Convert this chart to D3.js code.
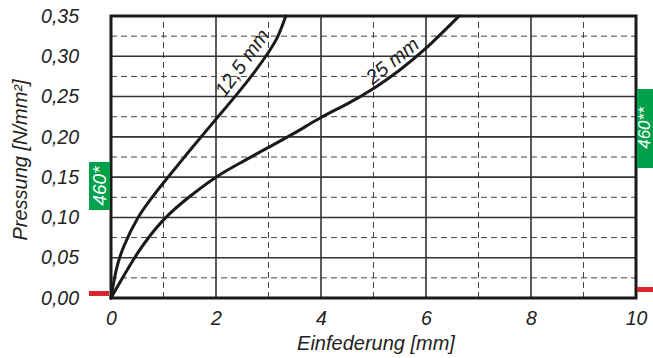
<!DOCTYPE html>
<html>
<head>
<meta charset="utf-8">
<script src="https://cdn.jsdelivr.net/npm/d3@7"></script>
<style>
  html, body { margin: 0; padding: 0; background: #fff; }
  svg { display: block; }
  text { font-family: "Liberation Sans", Arial, sans-serif; font-style: italic; fill: #222; }
</style>
</head>
<body>
<svg id="chart" width="653" height="358"></svg>
<script>
// ---- data ----
const xTicks = [0, 2, 4, 6, 8, 10];
const yTicks = [0, 0.05, 0.10, 0.15, 0.20, 0.25, 0.30, 0.35];
const xMinor = [1, 3, 5, 7, 9];
const yMinor = [0.025, 0.075, 0.125, 0.175, 0.225, 0.275, 0.325];

const curve125X = [0, 0.1, 0.25, 0.5, 0.75, 1, 1.5, 2, 2.4, 2.75, 3.0, 3.18, 3.33];
const curve125Y = [0, 0.035, 0.065, 0.098, 0.122, 0.143, 0.183, 0.222, 0.253, 0.282, 0.305, 0.325, 0.35];
const curve25X = [0, 0.5, 1, 1.5, 2, 2.5, 3, 3.5, 4, 4.5, 5, 5.5, 6, 6.63];
const curve25Y = [0, 0.055, 0.097, 0.126, 0.15, 0.169, 0.187, 0.205, 0.224, 0.241, 0.26, 0.283, 0.31, 0.35];

const curveLabels = ["12,5 mm", "25 mm"];
const xTitle = "Einfederung [mm]";
const yTitle = "Pressung [N/mm²]";
const boxLeftLabel = "460*";
const boxRightLabel = "460**";

// ---- layout ----
const svg = d3.select("#chart");
const x = d3.scaleLinear().domain([0, 10]).range([111, 636]);
const y = d3.scaleLinear().domain([0, 0.35]).range([298, 16]);
const fmt = d => d3.format(".2f")(d).replace(".", ",");

// minor dashed grid
const g = svg.append("g");
g.selectAll(".hmin").data(yMinor).join("line")
  .attr("x1", x(0)).attr("x2", x(10)).attr("y1", d => y(d)).attr("y2", d => y(d))
  .attr("stroke", "#444").attr("stroke-width", 1).attr("stroke-dasharray", "6,4");
g.selectAll(".vmin").data(xMinor).join("line")
  .attr("y1", y(0)).attr("y2", y(0.35)).attr("x1", d => x(d)).attr("x2", d => x(d))
  .attr("stroke", "#444").attr("stroke-width", 1).attr("stroke-dasharray", "6,4");
// major solid grid
g.selectAll(".hmaj").data(yTicks.slice(1, -1)).join("line")
  .attr("x1", x(0)).attr("x2", x(10)).attr("y1", d => y(d)).attr("y2", d => y(d))
  .attr("stroke", "#333").attr("stroke-width", 1.6);
g.selectAll(".vmaj").data(xTicks.slice(1, -1)).join("line")
  .attr("y1", y(0)).attr("y2", y(0.35)).attr("x1", d => x(d)).attr("x2", d => x(d))
  .attr("stroke", "#333").attr("stroke-width", 1.6);

// border
svg.append("rect").attr("x", x(0)).attr("y", y(0.35))
  .attr("width", x(10) - x(0)).attr("height", y(0) - y(0.35))
  .attr("fill", "none").attr("stroke", "#1a1a1a").attr("stroke-width", 3);

// curves
const line = d3.line().x(d => x(d[0])).y(d => y(d[1])).curve(d3.curveNatural);
const series = [d3.zip(curve125X, curve125Y), d3.zip(curve25X, curve25Y)];
svg.selectAll(".curve").data(series).join("path")
  .attr("d", line).attr("fill", "none").attr("stroke", "#1a1a1a").attr("stroke-width", 3)
  .attr("stroke-linecap", "round");

// curve labels
svg.append("text").attr("transform", `translate(${x(2.6)},${y(0.287)}) rotate(-54)`)
  .attr("text-anchor", "middle").attr("font-size", 20).text(curveLabels[0]);
svg.append("text").attr("transform", `translate(${x(5.44)},${y(0.288)}) rotate(-39)`)
  .attr("text-anchor", "middle").attr("font-size", 20).text(curveLabels[1]);

// axes
const yAxis = svg.append("g").attr("transform", `translate(${x(0)},0)`)
  .call(d3.axisLeft(y).tickValues(yTicks).tickFormat(fmt).tickSize(0).tickPadding(32));
yAxis.select(".domain").remove();
yAxis.selectAll("text").attr("font-size", 19.5).attr("font-family", null).attr("fill", "#222");

const xAxis = svg.append("g").attr("transform", `translate(0,${y(0)})`)
  .call(d3.axisBottom(x).tickValues(xTicks).tickFormat(d3.format("d")).tickSize(0).tickPadding(13));
xAxis.select(".domain").remove();
xAxis.selectAll("text").attr("font-size", 19.5).attr("font-family", null).attr("fill", "#222");

// titles
svg.append("text").attr("x", 376).attr("y", 350).attr("text-anchor", "middle")
  .attr("font-size", 20).text(xTitle);
svg.append("text").attr("transform", "translate(27,160) rotate(-90)").attr("text-anchor", "middle")
  .attr("font-size", 20).text(yTitle);

// green boxes
svg.append("rect").attr("x", 89).attr("y", 162).attr("width", 21).attr("height", 48).attr("fill", "#00a14b");
svg.append("text").attr("transform", "translate(106,186) rotate(-90)").attr("text-anchor", "middle")
  .attr("font-size", 19).style("fill", "#fff").text(boxLeftLabel);
svg.append("rect").attr("x", 637).attr("y", 89).attr("width", 16).attr("height", 79).attr("fill", "#00a14b");
svg.append("text").attr("transform", "translate(649.5,128) rotate(-90)").attr("text-anchor", "middle")
  .attr("font-size", 17).style("fill", "#fff").text(boxRightLabel);

// red markers
svg.append("rect").attr("x", 89).attr("y", 291).attr("width", 20).attr("height", 5).attr("fill", "#d9262c");
svg.append("rect").attr("x", 637).attr("y", 287).attr("width", 16).attr("height", 5).attr("fill", "#d9262c");
</script>
</body>
</html>
